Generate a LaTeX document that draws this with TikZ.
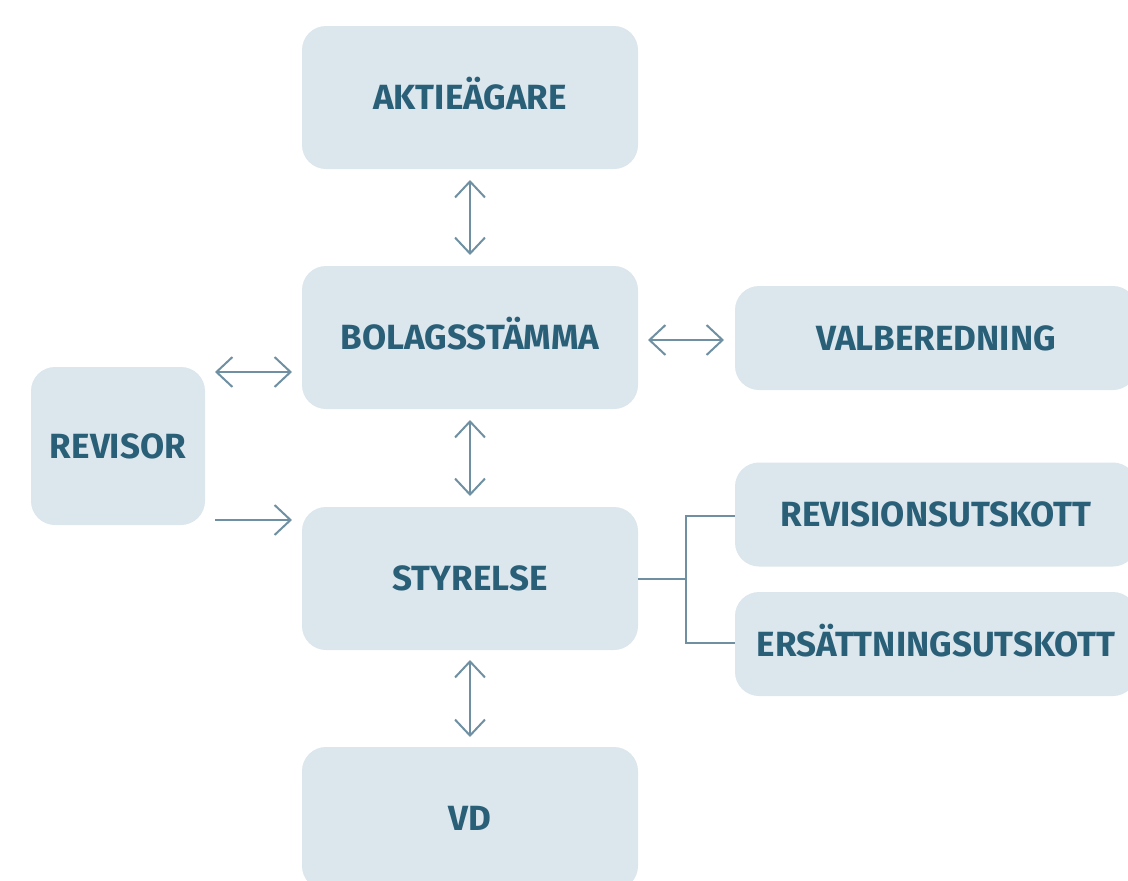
\documentclass[tikz,border=0pt]{standalone}
\usepackage{fontspec}
\setmainfont{Fira Sans}
\usetikzlibrary{arrows.meta}
\definecolor{boxfill}{HTML}{DCE6ED}
\definecolor{txt}{HTML}{2A5F78}
\definecolor{lnk}{HTML}{6F90A2}
\tikzset{
  box/.style={fill=boxfill, rounded corners=24pt, inner sep=0pt, font=\fontsize{35}{35}\selectfont\bfseries, text=txt, text depth=0pt, text height=24pt},
  dbl/.style={draw=lnk, line width=2pt, {Straight Barb[length=16pt,width=30pt]}-{Straight Barb[length=16pt,width=30pt]}},
  sgl/.style={draw=lnk, line width=2pt, -{Straight Barb[length=16pt,width=30pt]}},
  tree/.style={draw=lnk, line width=2pt},
}
\begin{document}
\begin{tikzpicture}[x=1pt,y=-1pt]
\useasboundingbox (0,0) rectangle (1128,881);
\clip (0,0) rectangle (1128,881);
\node[box, minimum width=336pt, minimum height=143pt] (akt) at (470,97.5) {AKTIEÄGARE};
\node[box, minimum width=336pt, minimum height=143pt] (bol) at (470,337.5) {BOLAGSSTÄMMA};
\node[box, minimum width=336pt, minimum height=143pt] (sty) at (470,578.5) {STYRELSE};
\node[box, minimum width=336pt, minimum height=143pt] (vd) at (470,818.5) {VD};
\node[box, minimum width=174pt, minimum height=158pt] (rev) at (118,446) {REVISOR};
\node[box, minimum width=402pt, minimum height=104pt] (val) at (936,338) {VALBEREDNING};
\node[box, minimum width=402pt, minimum height=104pt] (ru) at (936,514.5) {REVISIONSUTSKOTT};
\node[box, minimum width=402pt, minimum height=104pt] (eu) at (936,644) {ERSÄTTNINGSUTSKOTT};
\coordinate (a1) at (470,180); \coordinate (a2) at (470,255);
\coordinate (b1) at (470,420); \coordinate (b2) at (470,496);
\coordinate (c1) at (470,660); \coordinate (c2) at (470,737);
\coordinate (d1) at (648,340); \coordinate (d2) at (724,340);
\coordinate (e1) at (215,372); \coordinate (e2) at (292,372);
\coordinate (f1) at (215,520); \coordinate (f2) at (292,520);
\draw[dbl] (a1) -- (a2);
\draw[dbl] (b1) -- (b2);
\draw[dbl] (c1) -- (c2);
\draw[dbl] (d1) -- (d2);
\draw[dbl] (e1) -- (e2);
\draw[sgl] (f1) -- (f2);
\coordinate (j) at (686,578.5);
\draw[tree] (sty.east) -- (j);
\draw[tree] (ru.west |- 0,516) -| (686,643) -- (eu.west |- 0,643);
\end{tikzpicture}
\end{document}
